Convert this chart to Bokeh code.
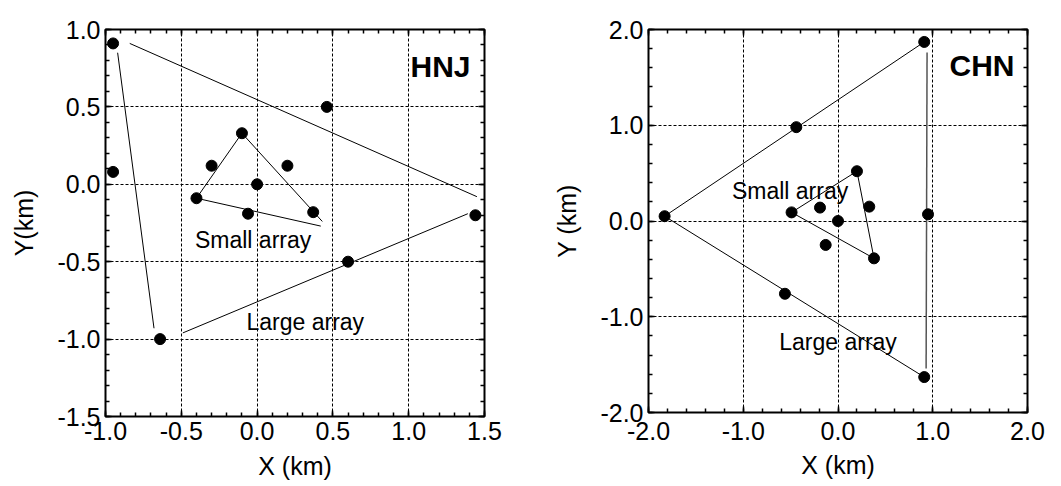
from bokeh.plotting import figure
from bokeh.layouts import row
from bokeh.models import (Range1d, FixedTicker, LinearAxis, NumeralTickFormatter,
                          CustomJSTickFormatter)
from bokeh.core.properties import value
from bokeh.embed import file_html
from bokeh.resources import INLINE

FONT = "Liberation Sans"

# ---------------- HNJ site ----------------
hnj_station_x = [-0.95, -0.95, -0.64, 0.46, 0.60, 1.44,
                 -0.10, -0.30, 0.20, 0.00, -0.40, -0.06, 0.37]
hnj_station_y = [0.91, 0.08, -1.00, 0.50, -0.50, -0.20,
                 0.33, 0.12, 0.12, 0.00, -0.09, -0.19, -0.18]
# outline segments of the large array
hnj_large_xs = [[-0.92, -0.68], [-0.84, 1.45], [-0.49, 1.39]]
hnj_large_ys = [[0.85, -0.93], [0.91, -0.08], [-0.96, -0.19]]
# outline of the small array
hnj_small_xs = [0.42, -0.40, -0.10, 0.43]
hnj_small_ys = [-0.27, -0.09, 0.33, -0.24]
hnj_x_ticks = [-1.0, -0.5, 0.0, 0.5, 1.0, 1.5]
hnj_y_ticks = [-1.5, -1.0, -0.5, 0.0, 0.5, 1.0]
hnj_minor = [round(-1.5 + 0.1 * i, 1) for i in range(31)]

# ---------------- CHN site ----------------
chn_station_x = [0.91, -0.44, -1.83, -0.56, 0.91, 0.95,
                 0.20, -0.49, -0.19, 0.33, 0.00, -0.13, 0.38]
chn_station_y = [1.87, 0.98, 0.05, -0.76, -1.63, 0.07,
                 0.52, 0.09, 0.14, 0.15, 0.00, -0.25, -0.39]
chn_large_xs = [0.91, -1.83, 0.91]
chn_large_ys = [1.87, 0.05, -1.63]
chn_side_xs = [0.94, 0.93]
chn_side_ys = [1.76, -1.54]
chn_small_xs = [-0.49, 0.20, 0.38, -0.49]
chn_small_ys = [0.09, 0.52, -0.39, 0.09]
chn_ticks = [-2.0, -1.0, 0.0, 1.0, 2.0]
chn_minor = [round(-2.0 + 0.2 * i, 1) for i in range(21)]


def styled_figure(xr, yr, xticks, yticks, minor, xlabel, ylabel,
                  left, right, top, bottom, fw, fh, x_std, x_lab_std):
    p = figure(x_range=Range1d(*xr), y_range=Range1d(*yr),
               frame_width=fw, frame_height=fh,
               min_border_left=left, min_border_right=right,
               min_border_top=top, min_border_bottom=bottom,
               output_backend="svg", toolbar_location=None,
               x_axis_location=None, y_axis_location=None)
    p.background_fill_color = "white"
    p.border_fill_color = "white"
    p.outline_line_color = "black"
    p.outline_line_width = 2

    xt = FixedTicker(ticks=xticks, minor_ticks=minor)
    yt = FixedTicker(ticks=yticks, minor_ticks=minor)
    for loc, tk, lab in (("below", xt, xlabel), ("left", yt, ylabel),
                         ("above", xt, None), ("right", yt, None)):
        ax = LinearAxis(ticker=tk)
        ax.axis_line_color = None
        ax.major_tick_in = 6
        ax.major_tick_out = 0
        ax.minor_tick_in = 4
        ax.minor_tick_out = 0
        ax.major_tick_line_width = 1.5
        ax.minor_tick_line_width = 1.5
        ax.major_tick_line_color = "black"
        ax.minor_tick_line_color = "black"
        if lab is None:
            # mirrored tick marks only, without numbers
            ax.formatter = CustomJSTickFormatter(code="return ''")
            ax.major_label_text_font_size = "10px"
            ax.major_label_standoff = 0
        else:
            ax.formatter = NumeralTickFormatter(format="0.0")
            ax.axis_label = lab
            ax.axis_label_text_font = FONT
            ax.axis_label_text_font_style = "normal"
            ax.axis_label_text_font_size = "25px"
            ax.axis_label_text_color = "black"
            ax.major_label_text_font = FONT
            ax.major_label_text_font_size = "25px"
            ax.major_label_text_color = "black"
            if loc == "below":
                ax.major_label_standoff = x_std
                ax.axis_label_standoff = x_lab_std
            else:
                ax.major_label_standoff = 5
                ax.axis_label_standoff = 16
        p.add_layout(ax, loc)

    p.xgrid.ticker = xt
    p.ygrid.ticker = yt
    for g in (p.xgrid, p.ygrid):
        g.grid_line_color = "black"
        g.grid_line_dash = "3 2"
        g.grid_line_width = 1
    return p


def text(p, x, y, s, size, bold=False, align="left", baseline="alphabetic"):
    p.text(x=[x], y=[y], text=[s], text_font=value(FONT),
           text_font_size=size, text_font_style="bold" if bold else "normal",
           text_align=align, text_baseline=baseline, text_color="black")


# HNJ panel
p1 = styled_figure((-1.0, 1.5), (-1.5, 1.0), hnj_x_ticks, hnj_y_ticks, hnj_minor,
                   "X (km)", "Y(km)", 105, 46, 29, 70, 379, 387, 5, 9)
p1.multi_line(hnj_large_xs, hnj_large_ys, line_color="black", line_width=1)
p1.line(hnj_small_xs, hnj_small_ys, line_color="black", line_width=1)
p1.scatter(hnj_station_x, hnj_station_y, size=11, color="black")
text(p1, 1.21, 0.76, "HNJ", "30px", bold=True, align="center", baseline="middle")
text(p1, -0.41, -0.36, "Small array", "23px")
text(p1, -0.07, -0.89, "Large array", "23px")

# CHN panel
p2 = styled_figure((-2.0, 2.0), (-2.0, 2.0), chn_ticks, chn_ticks, chn_minor,
                   "X (km)", "Y (km)", 118, 34, 24, 79, 379, 383, 9, 8)
p2.line(chn_large_xs, chn_large_ys, line_color="black", line_width=1)
p2.line(chn_side_xs, chn_side_ys, line_color="#555555", line_width=1.5)
p2.line(chn_small_xs, chn_small_ys, line_color="black", line_width=1)
p2.scatter(chn_station_x, chn_station_y, size=11, color="black")
text(p2, 1.52, 1.62, "CHN", "30px", bold=True, align="center", baseline="middle")
text(p2, -1.12, 0.31, "Small array", "23px")
text(p2, -0.62, -1.26, "Large array", "23px")

layout = row(p1, p2)
open("out.html", "w").write(file_html(layout, INLINE))
